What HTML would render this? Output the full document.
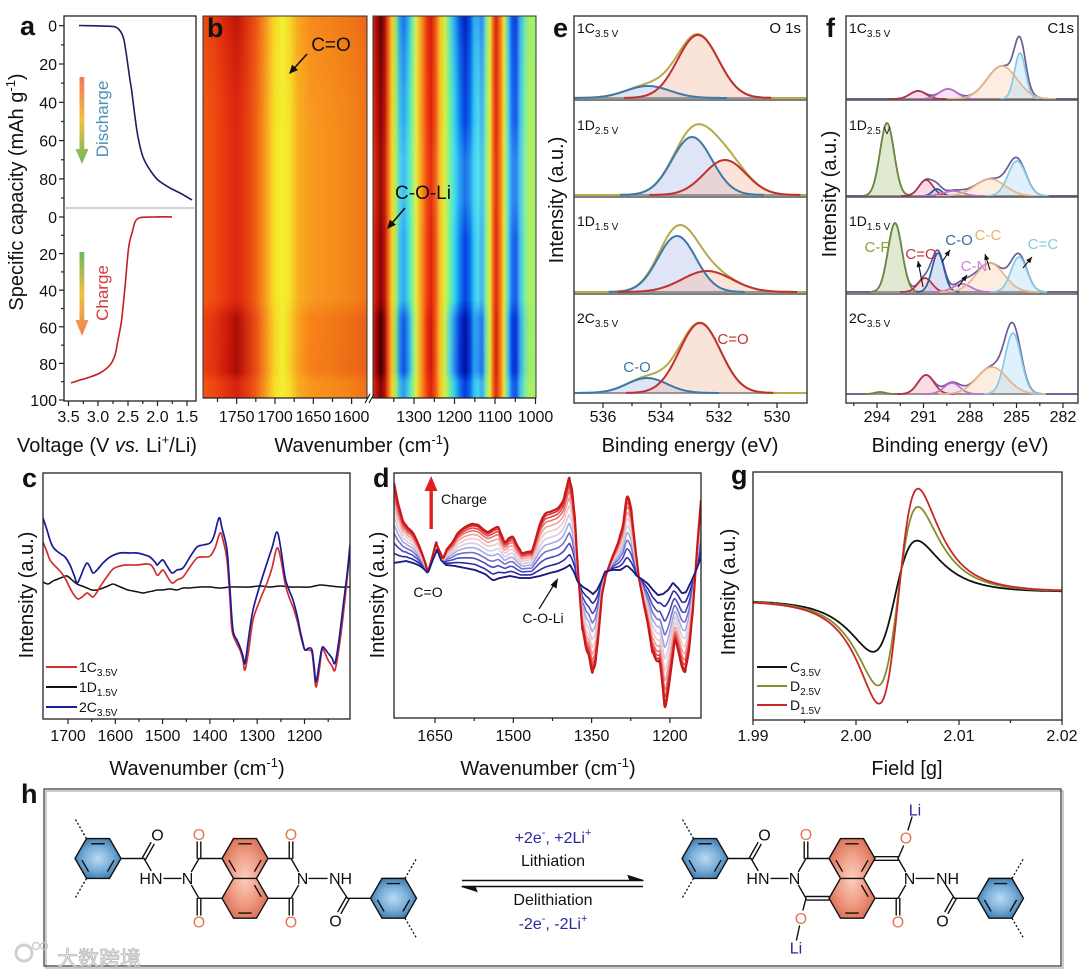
<!DOCTYPE html>
<html><head><meta charset="utf-8">
<style>
html,body{margin:0;padding:0;background:#fff;}
svg{display:block;}
text{font-family:"Liberation Sans","Noto Sans CJK SC",sans-serif;fill:#111;}
</style></head><body>
<svg id="s" xmlns="http://www.w3.org/2000/svg" width="1080" height="972" viewBox="0 0 1080 972">
<defs>
 <linearGradient id="hmL" gradientUnits="userSpaceOnUse" x1="203" y1="0" x2="367" y2="0"></linearGradient>
 <linearGradient id="hmLd" gradientUnits="userSpaceOnUse" x1="203" y1="0" x2="367" y2="0"></linearGradient>
 <linearGradient id="hmR" gradientUnits="userSpaceOnUse" x1="373" y1="0" x2="536" y2="0"></linearGradient>
 <linearGradient id="hmRd" gradientUnits="userSpaceOnUse" x1="373" y1="0" x2="536" y2="0"></linearGradient>
 <linearGradient id="hmRl" gradientUnits="userSpaceOnUse" x1="373" y1="0" x2="536" y2="0"></linearGradient>
 <linearGradient id="mk" gradientUnits="userSpaceOnUse" x1="0" y1="16" x2="0" y2="398">
  <stop offset="0" stop-color="#fff" stop-opacity="0.65"/>
  <stop offset="0.089" stop-color="#fff" stop-opacity="0.35"/>
  <stop offset="0.22" stop-color="#fff" stop-opacity="0.05"/>
  <stop offset="0.298" stop-color="#fff" stop-opacity="0"/>
  <stop offset="0.743" stop-color="#fff" stop-opacity="0"/>
  <stop offset="0.79" stop-color="#fff" stop-opacity="0.9"/>
  <stop offset="0.93" stop-color="#fff" stop-opacity="1"/>
  <stop offset="0.958" stop-color="#fff" stop-opacity="0.15"/>
  <stop offset="1" stop-color="#fff" stop-opacity="0.1"/>
 </linearGradient>
 <linearGradient id="mkl" gradientUnits="userSpaceOnUse" x1="0" y1="16" x2="0" y2="398">
  <stop offset="0" stop-color="#fff" stop-opacity="0"/>
  <stop offset="0.272" stop-color="#fff" stop-opacity="0"/>
  <stop offset="0.377" stop-color="#fff" stop-opacity="0.5"/>
  <stop offset="0.482" stop-color="#fff" stop-opacity="0.5"/>
  <stop offset="0.586" stop-color="#fff" stop-opacity="0"/>
  <stop offset="1" stop-color="#fff" stop-opacity="0"/>
 </linearGradient>
 <mask id="dm" maskUnits="userSpaceOnUse" x="190" y="0" width="360" height="410"><rect x="190" y="0" width="360" height="410" fill="url(#mk)"/></mask>
 <mask id="lm" maskUnits="userSpaceOnUse" x="190" y="0" width="360" height="410"><rect x="190" y="0" width="360" height="410" fill="url(#mkl)"/></mask>
 <linearGradient id="arD" gradientUnits="userSpaceOnUse" x1="0" y1="77" x2="0" y2="164">
  <stop offset="0" stop-color="#f07860"/><stop offset="0.5" stop-color="#f0c040"/><stop offset="1" stop-color="#6cb860"/>
 </linearGradient>
 <linearGradient id="arC" gradientUnits="userSpaceOnUse" x1="0" y1="252" x2="0" y2="336">
  <stop offset="0" stop-color="#6cb860"/><stop offset="0.5" stop-color="#f0c040"/><stop offset="1" stop-color="#f08058"/>
 </linearGradient>
 <radialGradient id="gb" cx="0.5" cy="0.5" r="0.55">
  <stop offset="0" stop-color="#b8daf4"/><stop offset="0.55" stop-color="#7aaed8"/><stop offset="1" stop-color="#3a78ac"/>
 </radialGradient>
 <radialGradient id="gr" cx="0.5" cy="0.5" r="0.55">
  <stop offset="0" stop-color="#fad0bc"/><stop offset="0.55" stop-color="#f0a088"/><stop offset="1" stop-color="#dc7058"/>
 </radialGradient>
 <clipPath id="ca"><rect x="64" y="16" width="132" height="385"/></clipPath>
 <clipPath id="cc"><rect x="43" y="473" width="307" height="246"/></clipPath>
 <clipPath id="cd"><rect x="394" y="473" width="307" height="245"/></clipPath>
 <clipPath id="cg"><rect x="753" y="472" width="309" height="248"/></clipPath>
 <clipPath id="ce"><rect x="574" y="16" width="233" height="387"/></clipPath>
 <clipPath id="cf"><rect x="846" y="16" width="232" height="387"/></clipPath>
</defs>
<g id="L"></g>

<!-- ===== Panel a ===== -->
<rect x="64" y="16" width="132" height="385" fill="none" stroke="#222" stroke-width="1.3"/>
<line x1="64" y1="208" x2="196" y2="208" stroke="#aaa" stroke-width="1"/>
<text x="20" y="35" font-size="27" font-weight="bold">a</text>
<g font-size="16" text-anchor="end">
 <text x="57" y="31.5">0</text><text x="57" y="70">20</text><text x="57" y="108.3">40</text><text x="57" y="146.7">60</text><text x="57" y="185">80</text>
 <text x="57" y="223">0</text><text x="57" y="260">20</text><text x="57" y="296.7">40</text><text x="57" y="333.3">60</text><text x="57" y="370">80</text><text x="57" y="406">100</text>
</g>
<g font-size="16" text-anchor="middle">
 <text x="68.5" y="422">3.5</text><text x="98" y="422">3.0</text><text x="128" y="422">2.5</text><text x="157.5" y="422">2.0</text><text x="187" y="422">1.5</text>
</g>
<text transform="translate(23,192) rotate(-90)" text-anchor="middle" font-size="20">Specific capacity (mAh g<tspan dy="-8" font-size="13">-1</tspan><tspan dy="8">)</tspan></text>
<text x="107" y="452" text-anchor="middle" font-size="20">Voltage (V <tspan font-style="italic">vs.</tspan> Li<tspan dy="-8" font-size="13">+</tspan><tspan dy="8">/Li)</tspan></text>
<text transform="translate(108,119) rotate(-90)" text-anchor="middle" font-size="17" style="fill:#4a90b8">Discharge</text>
<text transform="translate(108,293) rotate(-90)" text-anchor="middle" font-size="17" style="fill:#d03a3a">Charge</text>

<!-- ===== Panel b ===== -->
<text x="207" y="37" font-size="27" font-weight="bold">b</text>
<text x="331" y="51" text-anchor="middle" font-size="19">C=O</text>
<text x="423" y="199" text-anchor="middle" font-size="19">C-O-Li</text>
<g font-size="16" text-anchor="middle">
 <text x="236.7" y="422">1750</text><text x="275" y="422">1700</text><text x="313.3" y="422">1650</text><text x="351.6" y="422">1600</text>
 <text x="414" y="422">1300</text><text x="454.5" y="422">1200</text><text x="495" y="422">1100</text><text x="535.5" y="422">1000</text>
</g>
<text x="362" y="452" text-anchor="middle" font-size="20">Wavenumber (cm<tspan dy="-8" font-size="13">-1</tspan><tspan dy="8">)</tspan></text>

<!-- ===== Panel e ===== -->
<text x="553" y="37" font-size="27" font-weight="bold">e</text>
<text transform="translate(563,200) rotate(-90)" text-anchor="middle" font-size="20">Intensity (a.u.)</text>
<g font-size="14">
 <text x="577" y="33">1C<tspan dy="4" font-size="10">3.5 V</tspan></text>
 <text x="577" y="130">1D<tspan dy="4" font-size="10">2.5 V</tspan></text>
 <text x="577" y="226">1D<tspan dy="4" font-size="10">1.5 V</tspan></text>
 <text x="577" y="323">2C<tspan dy="4" font-size="10">3.5 V</tspan></text>
</g>
<text x="801" y="33" text-anchor="end" font-size="15">O 1s</text>
<text x="733" y="344" text-anchor="middle" font-size="15" style="fill:#c0302c">C=O</text>
<text x="637" y="372" text-anchor="middle" font-size="15" style="fill:#3a7aa8">C-O</text>
<g font-size="16" text-anchor="middle">
 <text x="603" y="422">536</text><text x="661" y="422">534</text><text x="719" y="422">532</text><text x="777" y="422">530</text>
</g>
<text x="690" y="452" text-anchor="middle" font-size="20">Binding energy (eV)</text>

<!-- ===== Panel f ===== -->
<text x="826" y="37" font-size="27" font-weight="bold">f</text>
<text transform="translate(836,194) rotate(-90)" text-anchor="middle" font-size="20">Intensity (a.u.)</text>
<g font-size="14">
 <text x="849" y="33">1C<tspan dy="4" font-size="10">3.5 V</tspan></text>
 <text x="849" y="130">1D<tspan dy="4" font-size="10">2.5 V</tspan></text>
 <text x="849" y="226">1D<tspan dy="4" font-size="10">1.5 V</tspan></text>
 <text x="849" y="323">2C<tspan dy="4" font-size="10">3.5 V</tspan></text>
</g>
<text x="1074" y="33" text-anchor="end" font-size="15">C1s</text>
<g font-size="15" text-anchor="middle">
 <text x="877" y="252" style="fill:#8aa040">C-F</text>
 <text x="921" y="259" style="fill:#c03048">C=O</text>
 <text x="959" y="245" style="fill:#2f6fa8">C-O</text>
 <text x="988" y="240" style="fill:#e8b070">C-C</text>
 <text x="974" y="271" style="fill:#d080d8">C-N</text>
 <text x="1043" y="249" style="fill:#80cce0">C=C</text>
</g>
<g font-size="16" text-anchor="middle">
 <text x="877" y="422">294</text><text x="923.5" y="422">291</text><text x="970" y="422">288</text><text x="1016.5" y="422">285</text><text x="1063" y="422">282</text>
</g>
<text x="960" y="452" text-anchor="middle" font-size="20">Binding energy (eV)</text>

<!-- ===== Panel c ===== -->
<rect x="43" y="473" width="307" height="246" fill="none" stroke="#222" stroke-width="1.3"/>
<text x="22" y="487" font-size="27" font-weight="bold">c</text>
<text transform="translate(33,595) rotate(-90)" text-anchor="middle" font-size="20">Intensity (a.u.)</text>
<g font-size="16" text-anchor="middle">
 <text x="68" y="741">1700</text><text x="115.3" y="741">1600</text><text x="162.6" y="741">1500</text><text x="209.9" y="741">1400</text><text x="257.2" y="741">1300</text><text x="304.5" y="741">1200</text>
</g>
<text x="197" y="775" text-anchor="middle" font-size="20">Wavenumber (cm<tspan dy="-8" font-size="13">-1</tspan><tspan dy="8">)</tspan></text>
<line x1="46" y1="667" x2="77" y2="667" stroke="#d03030" stroke-width="2"/>
<line x1="46" y1="687" x2="77" y2="687" stroke="#111" stroke-width="2"/>
<line x1="46" y1="707" x2="77" y2="707" stroke="#1a1a9a" stroke-width="2"/>
<g font-size="14">
 <text x="79" y="672">1C<tspan dy="4" font-size="10">3.5V</tspan></text>
 <text x="79" y="692">1D<tspan dy="4" font-size="10">1.5V</tspan></text>
 <text x="79" y="712">2C<tspan dy="4" font-size="10">3.5V</tspan></text>
</g>

<!-- ===== Panel d ===== -->
<rect x="394" y="473" width="307" height="245" fill="none" stroke="#222" stroke-width="1.3"/>
<text x="373" y="487" font-size="27" font-weight="bold">d</text>
<text transform="translate(384,595) rotate(-90)" text-anchor="middle" font-size="20">Intensity (a.u.)</text>
<g font-size="16" text-anchor="middle">
 <text x="435" y="741">1650</text><text x="513.3" y="741">1500</text><text x="591.6" y="741">1350</text><text x="669.9" y="741">1200</text>
</g>
<text x="548" y="775" text-anchor="middle" font-size="20">Wavenumber (cm<tspan dy="-8" font-size="13">-1</tspan><tspan dy="8">)</tspan></text>
<rect x="429.5" y="489" width="3.4" height="40" fill="#e02020"/>
<polygon points="424.5,491 437.5,491 431.2,476" fill="#e02020"/>
<text x="441" y="504" font-size="14">Charge</text>
<text x="428" y="597" text-anchor="middle" font-size="14">C=O</text>
<text x="543" y="623" text-anchor="middle" font-size="14">C-O-Li</text>
<line x1="539" y1="609" x2="555" y2="583" stroke="#111" stroke-width="1.2"/>
<polygon points="558,578 550.5,585 556.5,588.5" fill="#111"/>

<!-- ===== Panel g ===== -->
<rect x="753" y="472" width="309" height="248" fill="none" stroke="#222" stroke-width="1.3"/>
<text x="731" y="484" font-size="27" font-weight="bold">g</text>
<text transform="translate(735,592) rotate(-90)" text-anchor="middle" font-size="20">Intensity (a.u.)</text>
<g font-size="16" text-anchor="middle">
 <text x="753" y="741">1.99</text><text x="856" y="741">2.00</text><text x="959" y="741">2.01</text><text x="1062" y="741">2.02</text>
</g>
<text x="907" y="775" text-anchor="middle" font-size="20">Field [g]</text>
<line x1="757" y1="667" x2="787" y2="667" stroke="#111" stroke-width="2"/>
<line x1="757" y1="686" x2="787" y2="686" stroke="#8a8a30" stroke-width="2"/>
<line x1="757" y1="705" x2="787" y2="705" stroke="#c82828" stroke-width="2"/>
<g font-size="14">
 <text x="790" y="672">C<tspan dy="4" font-size="10">3.5V</tspan></text>
 <text x="790" y="691">D<tspan dy="4" font-size="10">2.5V</tspan></text>
 <text x="790" y="710">D<tspan dy="4" font-size="10">1.5V</tspan></text>
</g>

<!-- ===== Panel h ===== -->
<rect x="46" y="791" width="1017" height="177" fill="none" stroke="#bbb" stroke-width="1.5"/>
<rect x="44" y="789" width="1017" height="177" fill="none" stroke="#333" stroke-width="1.2"/>
<text x="21" y="803" font-size="27" font-weight="bold">h</text>
<g font-size="16" text-anchor="middle">
 <text x="553" y="843" style="fill:#2a2a9a">+2e<tspan dy="-7" font-size="11">-</tspan><tspan dy="7">,  +2Li</tspan><tspan dy="-7" font-size="11">+</tspan></text>
 <text x="553" y="866">Lithiation</text>
 <text x="553" y="905">Delithiation</text>
 <text x="553" y="929" style="fill:#2a2a9a">-2e<tspan dy="-7" font-size="11">-</tspan><tspan dy="7">,  -2Li</tspan><tspan dy="-7" font-size="11">+</tspan></text>
</g>
<line x1="462" y1="880.5" x2="643" y2="880.5" stroke="#111" stroke-width="1.4"/>
<polygon points="643.5,880.5 628,875.5 630,880.5" fill="#111" stroke="#111" stroke-width="1"/>
<line x1="462" y1="886.5" x2="643" y2="886.5" stroke="#111" stroke-width="1.4"/>
<polygon points="461.5,886.5 477,891.5 475,886.5" fill="#111" stroke="#111" stroke-width="1"/>
<g opacity="0.85">
 <circle cx="24" cy="953" r="8" fill="none" stroke="#c8c8c8" stroke-width="3"/>
 <circle cx="36" cy="946" r="3.5" fill="none" stroke="#c8c8c8" stroke-width="1.5"/>
 <circle cx="44" cy="946" r="3.5" fill="none" stroke="#c8c8c8" stroke-width="1.5"/>
 <text x="57" y="966" font-size="21" style="fill:#e4e4e4;stroke:#b0b0b0;stroke-width:0.8" font-family="Noto Sans CJK SC, sans-serif">大数跨境</text>
</g>
</svg>

<script>
(function(){
const NS='http://www.w3.org/2000/svg';
const L=document.getElementById('L');
function E(tag,a,p){const e=document.createElementNS(NS,tag);for(const k in a)e.setAttribute(k,a[k]);(p||L).appendChild(e);return e;}
function T(x,y,s,a,p){const t=E('text',Object.assign({x:x,y:y},a||{}),p);t.textContent=s;return t;}
function sm(pts){
  let d='M'+pts[0][0].toFixed(1)+','+pts[0][1].toFixed(1);
  for(let i=0;i<pts.length-1;i++){
    const p0=pts[i-1]||pts[i],p1=pts[i],p2=pts[i+1],p3=pts[i+2]||p2;
    const c1=[p1[0]+(p2[0]-p0[0])/6,p1[1]+(p2[1]-p0[1])/6];
    const c2=[p2[0]-(p3[0]-p1[0])/6,p2[1]-(p3[1]-p1[1])/6];
    d+='C'+c1[0].toFixed(1)+','+c1[1].toFixed(1)+' '+c2[0].toFixed(1)+','+c2[1].toFixed(1)+' '+p2[0].toFixed(1)+','+p2[1].toFixed(1);
  }
  return d;
}
function pl(pts){return 'M'+pts.map(p=>p[0].toFixed(1)+','+p[1].toFixed(1)).join('L');}
function lin(P,x){
  for(let i=0;i<P.length-1;i++){if(x>=P[i][0]&&x<=P[i+1][0]){const t=(x-P[i][0])/((P[i+1][0]-P[i][0])||1);return P[i][1]+t*(P[i+1][1]-P[i][1]);}}
  return x<P[0][0]?P[0][1]:P[P.length-1][1];
}
function tk(x1,y1,x2,y2){E('line',{x1:x1,y1:y1,x2:x2,y2:y2,stroke:'#222','stroke-width':1.2});}

/* ---------- heatmap b ---------- */
function stops(id,x1,x2,arr){const g=document.getElementById(id);arr.forEach(s=>{const st=document.createElementNS(NS,'stop');st.setAttribute('offset',((s[0]-x1)/(x2-x1)).toFixed(4));st.setAttribute('stop-color',s[1]);g.appendChild(st);});}
stops('hmL',203,367,[[203,'#f25a14'],[215,'#ee4a10'],[228,'#e43212'],[237,'#de2610'],[246,'#e63c10'],[256,'#f06014'],[266,'#f8a020'],[274,'#f8dc28'],[282,'#f4f030'],[290,'#f6e028'],[298,'#f8b020'],[310,'#f89a20'],[330,'#f6901c'],[350,'#f4841a'],[367,'#f07418']]);
stops('hmLd',203,367,[[203,'#e84010'],[215,'#e03010'],[228,'#c81808'],[237,'#a80c06'],[246,'#d02810'],[256,'#e85014'],[266,'#f89020'],[274,'#f8d028'],[282,'#f0f030'],[290,'#f4d028'],[298,'#f8a020'],[310,'#f88018'],[330,'#f07818'],[350,'#ec6c16'],[367,'#e86016']]);
stops('hmR',373,536,[[373,'#e03010'],[378,'#b01008'],[381,'#880606'],[385,'#c01808'],[388,'#f06018'],[392,'#f8d030'],[396,'#a0f060'],[400,'#40c0f0'],[404,'#30a8f0'],[408,'#40d8e0'],[412,'#80f0a0'],[416,'#e0f040'],[421,'#f8a020'],[427,'#f04010'],[431,'#e02010'],[436,'#f06018'],[440,'#f8c028'],[445,'#d8f040'],[450,'#70f0a0'],[455,'#30d0f0'],[460,'#1080f0'],[465,'#0840e0'],[470,'#1070f0'],[474,'#30c8f0'],[478,'#50d8f0'],[482,'#40b0f0'],[486,'#80f0a0'],[490,'#e8e838'],[493,'#f07018'],[496,'#e02810'],[500,'#f07018'],[504,'#f0e030'],[508,'#50e0e0'],[512,'#2070f0'],[516,'#1858e8'],[520,'#40c0f0'],[525,'#80f0a0'],[530,'#b0f060'],[536,'#a0f070']]);
stops('hmRd',373,536,[[373,'#d02010'],[378,'#800000'],[381,'#400000'],[385,'#a01008'],[388,'#f05018'],[392,'#f8c030'],[396,'#80e070'],[400,'#2080f0'],[404,'#1050e0'],[408,'#2090f0'],[412,'#60e0c0'],[416,'#d0f050'],[421,'#f8a020'],[427,'#e83010'],[431,'#d01808'],[436,'#f06018'],[440,'#f8c028'],[445,'#c0f050'],[450,'#50d0e0'],[455,'#2080f0'],[460,'#0830d0'],[465,'#0010a0'],[470,'#0838d8'],[474,'#20a0f0'],[478,'#3090f0'],[482,'#2070f0'],[486,'#70e0b0'],[490,'#e0e838'],[493,'#f07018'],[496,'#d02010'],[500,'#f07018'],[504,'#f0e030'],[508,'#40c0f0'],[512,'#0840e0'],[516,'#0830d0'],[520,'#30a0f0'],[525,'#70e0b0'],[530,'#a0f060'],[536,'#a0f070']]);
stops('hmRl',373,536,[[373,'#e84018'],[378,'#c82010'],[381,'#a01008'],[385,'#d83010'],[388,'#f07020'],[392,'#f8d830'],[396,'#b0f060'],[400,'#60e0f0'],[404,'#50d0f0'],[408,'#60e8e0'],[412,'#90f0a0'],[416,'#e0f040'],[421,'#f8a820'],[427,'#f05018'],[431,'#e83818'],[436,'#f07020'],[440,'#f8c830'],[445,'#d8f048'],[450,'#80f0b0'],[455,'#50e0f0'],[460,'#40c0f0'],[465,'#30a0f0'],[470,'#40c0f0'],[474,'#50e0f0'],[478,'#60e8f0'],[482,'#50d0f0'],[486,'#90f0a0'],[490,'#e8e838'],[493,'#f07818'],[496,'#e83818'],[500,'#f07818'],[504,'#f0e030'],[508,'#60e8e0'],[512,'#40b0f0'],[516,'#40a8f0'],[520,'#50d0f0'],[525,'#90f0a0'],[530,'#b8f060'],[536,'#a8f070']]);
E('rect',{x:203,y:16,width:164,height:382,fill:'url(#hmL)'});
E('rect',{x:373,y:16,width:163,height:382,fill:'url(#hmR)'});
const dk=E('g',{mask:'url(#dm)'});
E('rect',{x:203,y:16,width:164,height:382,fill:'url(#hmLd)'},dk);
E('rect',{x:373,y:16,width:163,height:382,fill:'url(#hmRd)'},dk);
const lt=E('g',{mask:'url(#lm)'});
E('rect',{x:373,y:16,width:163,height:382,fill:'url(#hmRl)'},lt);
E('rect',{x:203,y:16,width:164,height:382,fill:'none',stroke:'#333','stroke-width':1});
E('rect',{x:373,y:16,width:163,height:382,fill:'none',stroke:'#333','stroke-width':1});
E('line',{x1:203,y1:398,x2:367,y2:398,stroke:'#222','stroke-width':1.3});
E('line',{x1:373,y1:398,x2:536,y2:398,stroke:'#222','stroke-width':1.3});
E('line',{x1:365,y1:403,x2:370,y2:394,stroke:'#222','stroke-width':1.2});
E('line',{x1:369,y1:403,x2:374,y2:394,stroke:'#222','stroke-width':1.2});
[236.7,275,313.3,351.6,414,454.5,495,535.5].forEach(x=>tk(x,398,x,404));
[217.5,255.8,294.2,332.5,393.8,434.3,474.8,515.3].forEach(x=>tk(x,398,x,402));
function arrow(x1,y1,x2,y2){E('line',{x1:x1,y1:y1,x2:x2-(x2-x1)*0.2,y2:y2-(y2-y1)*0.2,stroke:'#111','stroke-width':1.6});
  const a=Math.atan2(y2-y1,x2-x1),h=9,s=4;E('polygon',{points:[[x2,y2],[x2-h*Math.cos(a)+s*Math.sin(a),y2-h*Math.sin(a)-s*Math.cos(a)],[x2-h*Math.cos(a)-s*Math.sin(a),y2-h*Math.sin(a)+s*Math.cos(a)]].map(p=>p.join(',')).join(' '),fill:'#111'});}
arrow(307,54,289,74);
arrow(405,208,387,229);

/* ---------- panel a ---------- */
[68.5,98,128,157.5,187].forEach(x=>tk(x,401,x,406));
[83.3,113,142.8,172.3].forEach(x=>tk(x,401,x,404));
for(let c=0;c<=90;c+=10){const y=25.7+c*1.915;tk(64,y,c%20?61:59,y);}
for(let c=0;c<=100;c+=10){const y=217+c*1.83;tk(64,y,c%20?61:59,y);}
const ga=E('g',{'clip-path':'url(#ca)'});
const aU=[[79,25.5],[95,25.8],[108,26.2],[115,26.8],[119,29.5],[122,34],[124,40],[126,52],[128,66],[130,80],[132,93],[135,117],[138,137],[143,157],[150,170],[158,180],[170,188],[180,193],[192,200]];
const aD=[[71,383],[80,380],[87,378],[100,373],[110,365],[115,355],[118,340],[120,330],[122,317],[125,287],[128,253],[130,240],[132,233],[135,222],[138,218.5],[142,217.3],[153,217],[165,216.8],[172,217]];
E('path',{d:sm(aU),fill:'none',stroke:'#1a2060','stroke-width':1.6},ga);
E('path',{d:sm(aD),fill:'none',stroke:'#c02020','stroke-width':1.6},ga);
E('rect',{x:79.5,y:77,width:4.8,height:74,fill:'url(#arD)'});
E('polygon',{points:'75.5,149 88.5,149 82,164',fill:'url(#arD)'});
E('rect',{x:79.5,y:252,width:4.8,height:70,fill:'url(#arC)'});
E('polygon',{points:'75.5,320 88.5,320 82,336',fill:'url(#arC)'});

/* ---------- panel c ---------- */
[68,115.3,162.6,209.9,257.2,304.5].forEach(x=>tk(x,719,x,724));
[91.7,139,186.3,233.6,280.9,328.2].forEach(x=>tk(x,719,x,722));
const gc=E('g',{'clip-path':'url(#cc)'});
const cR=[[43,542],[47,552],[50,560],[55,566],[60,571],[65,578],[70,588],[74,595],[78,599],[82,597],[87,593],[90,595],[93,597],[97,592],[100,587],[106,578],[113,569],[120,566],[127,565],[137,565],[147,564],[152,566],[157,575],[160,573],[163,570],[167,576],[172,583],[177,580],[183,577],[190,567],[197,558],[203,557],[210,556],[215,548],[220,533],[223,540],[227,560],[230,600],[232,630],[236,642],[240,650],[243,660],[245,670],[249,648],[253,620],[260,600],[267,583],[272,568],[277,548],[281,560],[285,583],[289,597],[293,607],[297,620],[300,633],[303,645],[305,650],[309,650],[312,653],[314,670],[316,687],[319,672],[322,650],[325,653],[328,660],[332,666],[335,670],[339,648],[343,617],[347,580],[350,547]];
const cB=[[43,518],[47,530],[50,540],[53,547],[58,552],[65,557],[70,565],[74,575],[77,583],[80,578],[84,568],[87,563],[90,567],[93,573],[97,570],[103,563],[110,557],[120,553],[130,553],[137,553],[145,555],[150,557],[155,562],[157,565],[160,562],[163,560],[167,566],[172,573],[177,570],[183,568],[190,557],[197,547],[203,545],[210,543],[214,536],[219,518],[222,528],[227,550],[230,590],[233,630],[237,640],[240,647],[243,656],[245,663],[249,635],[253,610],[260,585],[267,563],[272,548],[277,532],[281,550],[285,577],[289,590],[293,600],[297,615],[300,630],[303,643],[305,650],[309,648],[312,650],[314,665],[316,682],[319,665],[322,648],[325,649],[328,653],[332,658],[335,663],[339,640],[343,607],[347,575],[350,545]];
const cK=[[43,582],[48,584],[53,581],[58,579],[63,577],[67,576],[72,580],[77,584],[82,586],[87,588],[92,590],[97,590],[103,588],[108,586],[113,584],[118,586],[123,588],[128,590],[133,591],[138,592],[143,593],[148,592],[153,591],[157,590],[162,590],[170,589],[177,590],[183,588],[190,588],[200,587],[210,587],[220,588],[230,587],[240,587],[250,587],[260,586],[270,587],[280,586],[290,587],[300,587],[310,587],[320,585],[330,586],[340,587],[350,587]];
E('path',{d:sm(cK),fill:'none',stroke:'#111','stroke-width':1.5},gc);
E('path',{d:sm(cR),fill:'none',stroke:'#d03030','stroke-width':1.7},gc);
E('path',{d:sm(cB),fill:'none',stroke:'#1a1a9a','stroke-width':1.7},gc);

/* ---------- panel d ---------- */
[435,513.3,591.6,669.9].forEach(x=>tk(x,718,x,723));
[474.2,552.5,630.8].forEach(x=>tk(x,718,x,721));
const gd=E('g',{'clip-path':'url(#cd)'});
const R=[[394,483],[398,503],[403,521],[408,528],[413,533],[420,548],[425,562],[428,570],[432,558],[436,543],[440,552],[443,558],[447,549],[452,543],[458,533],[465,527],[472,524],[478,525],[484,530],[488,532],[493,529],[498,527],[502,536],[505,542],[509,538],[513,537],[517,545],[522,553],[527,552],[532,551],[536,538],[540,524],[545,514],[552,511],[558,508],[563,501],[566,490],[569,478],[572,490],[575,520],[578,570],[582,625],[586,648],[589,656],[592,672],[595,665],[598,640],[602,595],[606,575],[612,558],[618,543],[623,525],[627,497],[631,508],[635,545],[639,578],[644,605],[648,625],[652,650],[656,660],[660,663],[663,690],[665,707],[668,692],[671,670],[675,640],[678,650],[682,667],[685,672],[689,650],[693,608],[697,550],[701,500]];
const Nv=[[394,563],[400,562],[406,561],[413,563],[420,566],[425,570],[428,572],[432,562],[437,550],[441,560],[446,565],[455,566],[465,568],[475,570],[485,574],[493,580],[500,578],[510,576],[520,578],[530,578],[540,576],[550,573],[558,571],[565,568],[570,565],[574,572],[578,582],[583,587],[588,590],[593,594],[597,590],[601,582],[605,572],[612,570],[620,570],[627,566],[632,570],[637,576],[643,580],[648,584],[653,590],[658,595],[663,594],[668,590],[673,583],[678,588],[682,593],[686,592],[692,580],[697,568],[701,557]];
const xs=[...new Set(R.map(p=>p[0]).concat(Nv.map(p=>p[0])))].sort((a,b)=>a-b);
const fam=[[0,'#1c1c80'],[0.12,'#2a2aa8'],[0.25,'#4848bc'],[0.37,'#7272c8'],[0.48,'#a8a8dc'],[0.58,'#d4cce8'],[0.68,'#f2c8c8'],[0.77,'#f0a0a0'],[0.85,'#e87070'],[0.91,'#e04848'],[0.96,'#d83030'],[1,'#c81818']];
fam.forEach(f=>{const t=f[0];const pts=xs.map(x=>{const a=lin(R,x),b=lin(Nv,x);return [x,b+(a-b)*t];});
  E('path',{d:sm(pts),fill:'none',stroke:f[1],'stroke-width':t===1?2.2:1.6},gd);});
E('path',{d:sm(xs.map(x=>[x,lin(Nv,x)])),fill:'none',stroke:'#1c1c80','stroke-width':1.8},gd);

/* ---------- panel g ---------- */
[753,856,959,1062].forEach(x=>tk(x,720,x,725));
[804.5,907.5,1010.5].forEach(x=>tk(x,720,x,723));
const gg=E('g',{'clip-path':'url(#cg)'});
function epr(x0,w,K){const p=[];for(let x=753;x<=1062;x+=1.5){const u=(x-x0)/w;const I=K*2*u/Math.pow(1+u*u,2);const b=599-(x-753)*6/309;p.push([x,b-I]);}return p;}
E('path',{d:pl(epr(895,38,85)),fill:'none',stroke:'#111','stroke-width':1.8},gg);
E('path',{d:pl(epr(898,34.6,137)),fill:'none',stroke:'#8a8a30','stroke-width':1.8},gg);
E('path',{d:pl(epr(898.5,33.8,165)),fill:'none',stroke:'#c82828','stroke-width':1.8},gg);

/* ---------- XPS e & f ---------- */
function xps(clip,x0,x1,subs,env,lw){
  const g=E('g',{'clip-path':'url('+clip+')'});
  subs.forEach(sp=>{
    const b=sp.b;
    sp.c.forEach(c=>{const p=[];const a=Math.max(x0,c.m-3.6*c.s),z=Math.min(x1,c.m+3.6*c.s);for(let x=a;x<=z;x+=1){p.push([x,b-c.h*Math.exp(-0.5*Math.pow((x-c.m)/c.s,2))]);}
      c.p=p;E('path',{d:pl(p)+'L'+z+','+b+'L'+a+','+b+'Z',fill:c.f,'fill-opacity':0.45,stroke:'none'},g);});
    const ep=[];for(let x=x0;x<=x1;x+=1){let y=0;sp.c.forEach(c=>{y+=c.h*Math.exp(-0.5*Math.pow((x-c.m)/c.s,2));});ep.push([x,b-y]);}
    E('line',{x1:x0,y1:b,x2:x1,y2:b,stroke:'#8a8a8a','stroke-width':1.8},g);
    E('path',{d:pl(ep),fill:'none',stroke:env,'stroke-width':lw},g);
    sp.c.forEach(c=>{E('path',{d:pl(c.p),fill:'none',stroke:c.col,'stroke-width':lw},g);});
  });
}
const eb={col:'#3a7aa8',f:'#b8c4ee'},er={col:'#c0302c',f:'#f4c0a8'};
function C(m,h,s,o){return Object.assign({m:m,h:h,s:s},o);}
xps('#ce',574,807,[
 {b:98,c:[C(648,12,22,eb),C(698,63,20.5,er)]},
 {b:195,c:[C(692,58,20,eb),C(725,35,21,er)]},
 {b:292,c:[C(677,56,19,eb),C(707,21,25,er)]},
 {b:393,c:[C(647,15,20,eb),C(700,70,20.5,er)]}
],'#b8a848',2);
const fg={col:'#6a8a3a',f:'#b8d098'},fr={col:'#b83048',f:'#f0b0c0'},fb={col:'#2a5a9a',f:'#a8c0e8'},fm={col:'#c070c8',f:'#e8c0f0'},fp={col:'#e8b488',f:'#f8d8b8'},fc={col:'#88c8e0',f:'#b8e0f8'};
xps('#cf',846,1078,[
 {b:99,c:[C(918,8,8,fr),C(948,10,9,fm),C(1002,33,15,fp),C(1020,46,5.5,fc)]},
 {b:196,c:[C(887,73,7,fg),C(926,16,7,fr),C(937,7,5,fb),C(953,5,10,fm),C(990,17,15,fp),C(1017,35,9,fc)]},
 {b:292,c:[C(895,69,7,fg),C(925,14,7,fr),C(938,39,6,fb),C(962,8,9,fm),C(990,29,14,fp),C(1019,35,8,fc)]},
 {b:394,c:[C(880,2,5,fg),C(926,19,8,fr),C(952,11,8,fm),C(992,27,15,fp),C(1013,61,8,fc)]}
],'#6a5a9a',1.7);
[[574,807],[846,1078]].forEach(f=>{
  E('rect',{x:f[0],y:16,width:f[1]-f[0],height:387,fill:'none',stroke:'#444','stroke-width':1.5});
  [100,197,294].forEach(y=>E('line',{x1:f[0],y1:y,x2:f[1],y2:y,stroke:'#555','stroke-width':1.5}));
});
[603,661,719,777].forEach(x=>tk(x,403,x,408));[632,690,748].forEach(x=>tk(x,403,x,406));
[877,923.5,970,1016.5,1063].forEach(x=>tk(x,403,x,408));[853.8,900.3,946.8,993.3,1039.8].forEach(x=>tk(x,403,x,406));
function sa(x1,y1,x2,y2){E('line',{x1:x1,y1:y1,x2:x2,y2:y2,stroke:'#111','stroke-width':1.1});const a=Math.atan2(y2-y1,x2-x1),h=6,s=2.6;
  E('polygon',{points:[[x2,y2],[x2-h*Math.cos(a)+s*Math.sin(a),y2-h*Math.sin(a)-s*Math.cos(a)],[x2-h*Math.cos(a)-s*Math.sin(a),y2-h*Math.sin(a)+s*Math.cos(a)]].map(p=>p.join(',')).join(' '),fill:'#111'});}
sa(923,287,918,261);sa(942,262,950,250);sa(958,287,967,275);sa(990,270,985,254);sa(1023,268,1032,257);

/* ---------- molecules h ---------- */
const BK='#111',OR='#e07a55',LB='#2a2a9a';
function ln(x1,y1,x2,y2){E('line',{x1:x1,y1:y1,x2:x2,y2:y2,stroke:BK,'stroke-width':1.4,'stroke-linecap':'round'});}
function dbl(x1,y1,x2,y2,off){const dx=x2-x1,dy=y2-y1,Ln=Math.hypot(dx,dy),nx=-dy/Ln*off/2,ny=dx/Ln*off/2;ln(x1+nx,y1+ny,x2+nx,y2+ny);ln(x1-nx,y1-ny,x2-nx,y2-ny);}
function dsh(x1,y1,x2,y2){E('line',{x1:x1,y1:y1,x2:x2,y2:y2,stroke:BK,'stroke-width':1.3,'stroke-dasharray':'2,2'});}
function inner(cx,cy,a,b){const s=0.74,sh=0.14;const A=[cx+(a[0]-cx)*s,cy+(a[1]-cy)*s],B=[cx+(b[0]-cx)*s,cy+(b[1]-cy)*s];
  ln(A[0]+(B[0]-A[0])*sh,A[1]+(B[1]-A[1])*sh,B[0]+(A[0]-B[0])*sh,B[1]+(A[1]-B[1])*sh);}
function hexV(cx,cy,r){const v=[];for(let k=0;k<6;k++){const a=k*Math.PI/3;v.push([cx+r*Math.cos(a),cy+r*Math.sin(a)]);}return v;}
function bring(cx,cy){const v=hexV(cx,cy,23);E('polygon',{points:v.map(p=>p.join(',')).join(' '),fill:'url(#gb)',stroke:BK,'stroke-width':1.4});
  [0,2,4].forEach(k=>inner(cx,cy,v[k],v[(k+1)%6]));return v;}
function atom(x,y,s,col,anchor){T(x,y+5.6,s,{'font-size':16,'text-anchor':anchor||'middle',style:'fill:'+col});}
function mol(o,lith){
  const X=x=>x+o;
  const v=bring(X(98),858.5);
  dsh(v[4][0],v[4][1],X(75),818.7);dsh(v[2][0],v[2][1],X(75),898.3);
  ln(X(121),858.5,X(144),858.5);
  dbl(X(144),858.5,X(152.5),843.5,3.6);atom(X(157.5),835,'O',BK);
  ln(X(144),858.5,X(151),870.5);
  atom(X(162.5),878.4,'HN',BK,'end');
  ln(X(164),878.4,X(181),878.4);
  atom(X(187.5),878.4,'N',BK);
  ln(X(191.5),871.5,X(199),858.5);ln(X(191.5),885.3,X(199),898.3);
  ln(X(199),858.5,X(222),858.5);
  dbl(X(199),858.5,X(199),842,3.6);atom(X(199),834.5,'O',OR);
  if(lith){dbl(X(199),898.3,X(222),898.3,3.6);ln(X(199),898.3,X(196),910);atom(X(194),918.5,'O',OR);ln(X(192.5),926,X(189.5),940);atom(X(189),948,'Li',LB);}
  else{ln(X(199),898.3,X(222),898.3);dbl(X(199),898.3,X(199),915,3.6);atom(X(199),922,'O',OR);}
  const nap=[[233.5,838.6],[256.5,838.6],[268,858.5],[256.5,878.4],[268,898.3],[256.5,918.2],[233.5,918.2],[222,898.3],[233.5,878.4],[222,858.5]].map(p=>[X(p[0]),p[1]]);
  E('polygon',{points:nap.map(p=>p.join(',')).join(' '),fill:'url(#gr)',stroke:BK,'stroke-width':1.4});
  ln(X(233.5),878.4,X(256.5),878.4);
  inner(X(245),858.5,[X(233.5),838.6],[X(256.5),838.6]);
  inner(X(245),858.5,[X(268),858.5],[X(256.5),878.4]);
  inner(X(245),858.5,[X(222),858.5],[X(233.5),878.4]);
  inner(X(245),898.3,[X(256.5),918.2],[X(233.5),918.2]);
  inner(X(245),898.3,[X(256.5),878.4],[X(268),898.3]);
  ln(X(291),858.5,X(298.5),871.5);ln(X(291),898.3,X(298.5),885.3);
  if(lith){dbl(X(268),858.5,X(291),858.5,3.6);ln(X(291),858.5,X(296.5),846);atom(X(299),838,'O',OR);ln(X(301),830,X(305),817);atom(X(308),810,'Li',LB);}
  else{ln(X(268),858.5,X(291),858.5);dbl(X(291),858.5,X(291),842,3.6);atom(X(291),834.5,'O',OR);}
  ln(X(268),898.3,X(291),898.3);dbl(X(291),898.3,X(291),915,3.6);atom(X(291),922,'O',OR);
  atom(X(302.5),878.4,'N',BK);
  ln(X(309),878.4,X(327),878.4);
  atom(X(329),878.4,'NH',BK,'start');
  ln(X(338.5),884.5,X(347.5),898.3);
  dbl(X(347.5),898.3,X(339.5),912.5,3.6);atom(X(335.5),921,'O',BK);
  ln(X(347.5),898.3,X(370.5),898.3);
  const w=bring(X(393.5),898.3);
  dsh(w[5][0],w[5][1],X(416.5),858.5);dsh(w[1][0],w[1][1],X(416.5),938.1);
}
mol(0,false);
mol(607,true);
})();
</script>
</body></html>
